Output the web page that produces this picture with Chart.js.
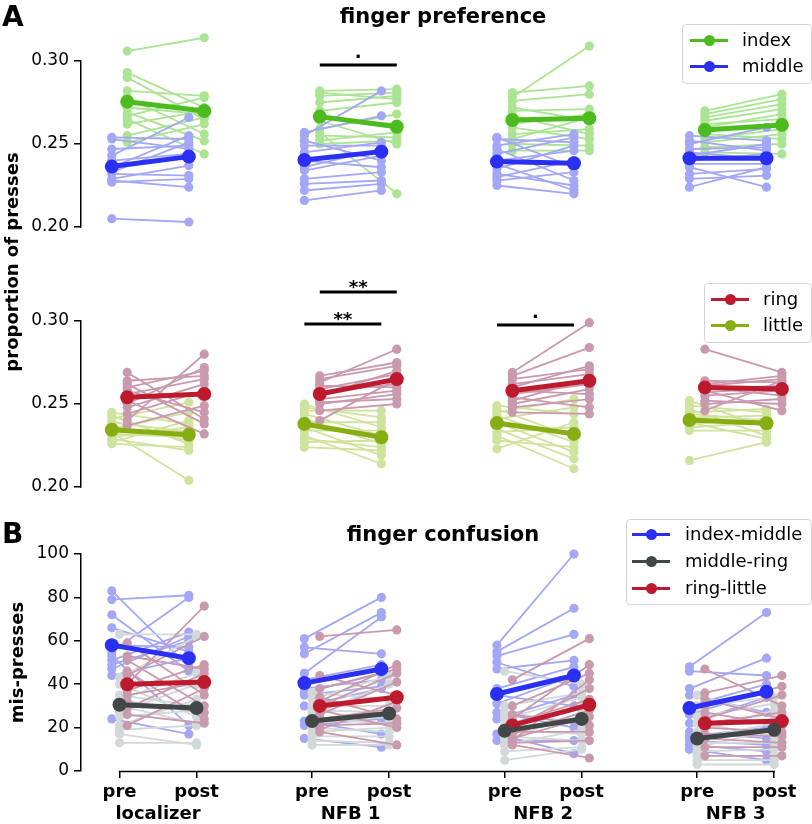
<!DOCTYPE html>
<html><head><meta charset="utf-8">
<script src="https://cdn.jsdelivr.net/npm/chart.js@4.4.1/dist/chart.umd.min.js"></script>
<style>
html,body{margin:0;padding:0;background:#fff;}
#wrap{position:relative;width:812px;height:824px;overflow:hidden;font-family:'DejaVu Sans',sans-serif;color:#000;background:#fff;}
canvas{position:absolute;left:0;}
.lbl{position:absolute;font-weight:bold;white-space:nowrap;line-height:1;}
.legend{position:absolute;border:1px solid #d4d4d4;border-radius:4px;background:rgba(255,255,255,0.85);box-sizing:border-box;z-index:5;}
.row{position:absolute;left:0;right:0;height:22px;}
.row .ln{position:absolute;height:3px;top:9.5px;width:38px;}
.row .dot{position:absolute;width:11px;height:11px;border-radius:50%;top:5.5px;}
.row .tx{position:absolute;font-size:18px;line-height:22px;white-space:nowrap;}
</style></head>
<body>
<div id="wrap">
  <canvas id="c1" width="812" height="262" style="top:0px"></canvas>
  <canvas id="c2" width="812" height="262" style="top:260px"></canvas>
  <canvas id="c3" width="812" height="314" style="top:510px"></canvas>
  <div class="lbl" style="left:2px;top:3px;font-size:28px;">A</div>
  <div class="lbl" style="left:2px;top:520px;font-size:28px;">B</div>
  <div class="lbl" style="left:12px;top:262px;font-size:18px;transform:translate(-50%,-50%) rotate(-90deg);">proportion of presses</div>
</div>
<script>
// ---------- DATA ----------
const sessions = ['localizer', 'NFB 1', 'NFB 2', 'NFB 3'];
const phases = ['pre', 'post'];
const yTicksPref = [0.20, 0.25, 0.30];
const yTickLabelsPref = ['0.20', '0.25', '0.30'];
const yTicksConf = [0, 20, 40, 60, 80, 100];
const yTickLabelsConf = ['0', '20', '40', '60', '80', '100'];

// finger preference (proportion of presses): per session, [pre, post] for each subject
const indexSubjects = [
  [[0.306,0.314],[0.293,0.272],[0.290,0.265],[0.282,0.279],[0.278,0.256],[0.272,0.268],[0.269,0.252],[0.267,0.278],[0.265,0.244],[0.262,0.270],[0.255,0.266],[0.251,0.262]],
  [[0.282,0.283],[0.281,0.277],[0.279,0.281],[0.275,0.279],[0.270,0.275],[0.266,0.262],[0.264,0.250],[0.259,0.268],[0.257,0.220],[0.255,0.254],[0.252,0.257],[0.250,0.252]],
  [[0.281,0.285],[0.278,0.309],[0.276,0.280],[0.272,0.264],[0.270,0.271],[0.267,0.256],[0.262,0.268],[0.260,0.253],[0.256,0.259],[0.253,0.266],[0.250,0.249],[0.246,0.246]],
  [[0.270,0.280],[0.268,0.277],[0.266,0.274],[0.264,0.271],[0.262,0.265],[0.260,0.268],[0.258,0.262],[0.256,0.253],[0.253,0.259],[0.251,0.256],[0.248,0.250],[0.245,0.244]]
];
const middleSubjects = [
  [[0.254,0.253],[0.253,0.247],[0.247,0.249],[0.243,0.266],[0.240,0.244],[0.236,0.255],[0.233,0.251],[0.232,0.231],[0.229,0.237],[0.228,0.224],[0.227,0.229],[0.205,0.203]],
  [[0.257,0.267],[0.255,0.282],[0.252,0.240],[0.249,0.249],[0.245,0.251],[0.240,0.236],[0.236,0.247],[0.234,0.243],[0.229,0.233],[0.226,0.228],[0.222,0.226],[0.216,0.222]],
  [[0.254,0.236],[0.253,0.251],[0.249,0.256],[0.247,0.228],[0.244,0.254],[0.240,0.246],[0.238,0.222],[0.235,0.249],[0.232,0.225],[0.230,0.240],[0.228,0.233],[0.225,0.220]],
  [[0.255,0.252],[0.252,0.246],[0.250,0.260],[0.247,0.248],[0.245,0.241],[0.243,0.250],[0.240,0.244],[0.238,0.238],[0.236,0.224],[0.232,0.235],[0.229,0.231],[0.224,0.236]]
];
const ringSubjects = [
  [[0.269,0.241],[0.264,0.267],[0.262,0.238],[0.260,0.270],[0.258,0.245],[0.256,0.265],[0.252,0.232],[0.250,0.272],[0.248,0.262],[0.244,0.258],[0.240,0.280],[0.237,0.249]],
  [[0.267,0.275],[0.265,0.273],[0.263,0.283],[0.261,0.260],[0.259,0.268],[0.257,0.262],[0.255,0.270],[0.253,0.258],[0.251,0.253],[0.250,0.256],[0.246,0.250],[0.240,0.265]],
  [[0.269,0.299],[0.267,0.284],[0.265,0.271],[0.262,0.268],[0.260,0.273],[0.258,0.256],[0.256,0.262],[0.254,0.248],[0.252,0.265],[0.250,0.259],[0.248,0.253],[0.245,0.244]],
  [[0.283,0.269],[0.264,0.263],[0.262,0.267],[0.261,0.265],[0.260,0.255],[0.259,0.261],[0.258,0.246],[0.257,0.260],[0.255,0.258],[0.252,0.250],[0.250,0.253],[0.246,0.264]]
];
const littleSubjects = [
  [[0.245,0.238],[0.243,0.226],[0.241,0.251],[0.239,0.233],[0.237,0.228],[0.235,0.245],[0.233,0.204],[0.232,0.230],[0.230,0.236],[0.229,0.222],[0.227,0.240],[0.226,0.224]],
  [[0.250,0.236],[0.248,0.242],[0.246,0.246],[0.244,0.231],[0.241,0.226],[0.239,0.239],[0.236,0.219],[0.234,0.234],[0.231,0.214],[0.229,0.224],[0.227,0.228],[0.224,0.222]],
  [[0.249,0.244],[0.247,0.230],[0.245,0.253],[0.243,0.227],[0.241,0.248],[0.239,0.221],[0.237,0.233],[0.235,0.217],[0.233,0.236],[0.231,0.211],[0.228,0.224],[0.223,0.239]],
  [[0.252,0.236],[0.249,0.245],[0.247,0.231],[0.245,0.247],[0.244,0.240],[0.242,0.243],[0.240,0.238],[0.239,0.229],[0.238,0.241],[0.236,0.239],[0.234,0.234],[0.216,0.227]]
];
const indexMean  = [[0.2755,0.2699],[0.2665,0.2604],[0.2645,0.2655],[0.2584,0.2615]];
const middleMean = [[0.2364,0.2424],[0.2404,0.2454],[0.2394,0.2384],[0.2414,0.2414]];
const ringMean   = [[0.2540,0.2560],[0.2560,0.2650],[0.2580,0.2640],[0.2600,0.2590]];
const littleMean = [[0.2345,0.2315],[0.2380,0.2300],[0.2385,0.2320],[0.2404,0.2384]];

// finger confusion (mis-presses)
const imSubjects = [
  [[83,48],[79,81],[72,46],[66,55],[58,57],[55,80],[53,21],[51,64],[49,60],[47,62],[44,52],[24,17]],
  [[61,80],[57,54],[54,73],[45,71],[42,49],[38,42],[36,45],[35,39],[30,38],[23,17],[21,24],[15,11]],
  [[58,100],[55,75],[53,63],[50,39],[47,51],[38,48],[35,30],[31,44],[27,20],[24,35],[17,8],[14,14]],
  [[48,73],[46,44],[38,52],[35,27],[30,40],[26,37],[22,34],[18,15],[16,20],[14,12],[12,9],[10,5]]
];
const mrSubjects = [
  [[63,63],[43,62],[40,25],[35,30],[33,45],[30,22],[27,40],[25,28],[21,33],[19,21],[17,12],[13,13]],
  [[36,33],[33,44],[30,30],[28,27],[26,40],[24,22],[22,25],[20,18],[18,20],[16,16],[14,13],[12,12]],
  [[46,40],[30,36],[27,22],[24,34],[21,30],[19,17],[17,25],[16,14],[14,27],[12,19],[9,11],[5,10]],
  [[35,25],[30,34],[25,31],[22,16],[18,28],[15,22],[13,13],[11,19],[9,10],[7,7],[5,5],[3,3]]
];
const rlSubjects = [
  [[59,35],[53,47],[51,30],[46,24],[44,62],[40,76],[37,49],[35,41],[32,27],[29,45],[26,22],[21,38]],
  [[62,65],[44,35],[38,47],[34,24],[32,49],[30,45],[28,20],[26,41],[24,29],[21,22],[19,32],[18,12]],
  [[42,61],[30,45],[26,21],[24,49],[22,33],[20,38],[18,18],[17,28],[15,25],[14,42],[13,14],[12,6]],
  [[47,30],[36,44],[33,24],[30,39],[27,21],[24,35],[22,27],[20,18],[17,16],[15,13],[11,11],[7,7]]
];
const imMean = [[58,52],[40.5,47],[35.5,44],[29,36.5]];
const mrMean = [[30.5,29],[23,26.5],[18.5,24],[15,19]];
const rlMean = [[40,41],[30,34],[21,30.5],[22,23]];

// significance annotations (data coordinates)
const sigPref = [{from: 2.6, to: 3.6, y: 0.2976, text: '.'}];
const sigRingLittle = [
  {from: 2.6, to: 3.6, y: 0.3175, text: '**'},
  {from: 2.4, to: 3.4, y: 0.2982, text: '**'},
  {from: 4.9, to: 5.9, y: 0.2976, text: '.'}
];

// ---------- LAYOUT / STYLE ----------
const phaseX = [0, 1, 2.5, 3.5, 5, 6, 7.5, 8.5];
const sessionX = [0.5, 3, 5.5, 8];
const X_MIN = -0.5, X_MAX = 8.9;
// preference panels: chart area 31..245 px; 0.30 -> 61 px, 0.20 -> 227 px
const PREF_MIN = 0.20 - 18 / 1660, PREF_MAX = 0.30 + 30 / 1660;
const FONT = "'DejaVu Sans', sans-serif";
Chart.defaults.font.family = FONT;
Chart.defaults.color = '#000';

const C = {
  index:  {main: '#4cbb1e', light: '#abe492'},
  middle: {main: '#2a30f2', light: '#a3a7f6'},
  ring:   {main: '#be1a2e', light: '#c99aae'},
  little: {main: '#86ad12', light: '#cfe39d'},
  mr:     {main: '#414747', light: '#d3d8d8'}
};

function subjectDatasets(subjects, off, color, label, order) {
  const out = [];
  for (let s = 0; s < subjects[0].length; s++) {
    const data = [];
    subjects.forEach((sess, k) => {
      data.push({x: phaseX[2*k] + off, y: sess[s][0]});
      data.push({x: phaseX[2*k+1] + off, y: sess[s][1]});
      data.push({x: phaseX[2*k+1] + off, y: null});
    });
    out.push({label: label + ' s' + (s+1), data, showLine: true, spanGaps: false,
      borderColor: color, backgroundColor: color, borderWidth: 1.8,
      pointRadius: 4.6, pointBorderWidth: 0, pointHoverRadius: 4.6,
      clip: false, order, xAxisID: 'x', yAxisID: 'y'});
  }
  return out;
}
function meanDataset(mean, off, color, label, order) {
  const data = [];
  mean.forEach((m, k) => {
    data.push({x: phaseX[2*k] + off, y: m[0]});
    data.push({x: phaseX[2*k+1] + off, y: m[1]});
    data.push({x: phaseX[2*k+1] + off, y: null});
  });
  return {label, data, showLine: true, spanGaps: false, borderColor: color, backgroundColor: color,
    borderWidth: 5, pointRadius: 7, pointBorderWidth: 0, pointHoverRadius: 7, clip: false, order,
    xAxisID: 'x', yAxisID: 'y'};
}
function sigDatasets(items) {
  return items.map((it, i) => ({label: 'sig' + i, data: [{x: it.from, y: it.y}, {x: it.to, y: it.y}],
    showLine: true, borderColor: '#000', borderWidth: 3, pointRadius: 0, pointHoverRadius: 0,
    clip: false, order: 0, xAxisID: 'x', yAxisID: 'y'}));
}

const sigPlugin = {
  id: 'sigText',
  afterDatasetsDraw(chart, args, opts) {
    const items = (opts && opts.items) || [];
    const {ctx} = chart; const x = chart.scales.x, y = chart.scales.y;
    ctx.save();
    ctx.fillStyle = '#000';
    ctx.font = "bold 18px 'DejaVu Sans'";
    ctx.textAlign = 'center';
    ctx.textBaseline = 'alphabetic';
    items.forEach(it => {
      const px = x.getPixelForValue((it.from + it.to) / 2);
      const py = y.getPixelForValue(it.y);
      ctx.fillText(it.text, px, py + (it.text === '.' ? -7 : 1));
    });
    ctx.restore();
  }
};
// trimmed spines (seaborn-style despine with trim): from first to last tick
const spinePlugin = {
  id: 'spines',
  afterDraw(chart, args, opts) {
    if (!opts) return;
    const {ctx, chartArea} = chart;
    ctx.save();
    ctx.strokeStyle = '#000'; ctx.lineWidth = 1.5;
    if (opts.x) {
      const x = chart.scales.x;
      ctx.beginPath();
      ctx.moveTo(x.getPixelForValue(opts.x[0]) - 0.75, chartArea.bottom + 0.5);
      ctx.lineTo(x.getPixelForValue(opts.x[1]) + 0.75, chartArea.bottom + 0.5);
      ctx.stroke();
    }
    if (opts.y) {
      const y = chart.scales.y;
      ctx.beginPath();
      ctx.moveTo(chartArea.left - 0.25, y.getPixelForValue(opts.y[0]) + 0.75);
      ctx.lineTo(chartArea.left - 0.25, y.getPixelForValue(opts.y[1]) - 0.75);
      ctx.stroke();
    }
    ctx.restore();
  }
};

function yScale(min, max, ticks, labels, border) {
  return {
    type: 'linear', min, max,
    afterBuildTicks: s => { s.ticks = ticks.map(v => ({value: v})); },
    afterFit: s => { s.width = 81; },
    ticks: {autoSkip: false, callback: v => labels[ticks.indexOf(v)], font: {size: 17}, color: '#000', padding: 5},
    grid: {drawOnChartArea: false, drawTicks: true, tickLength: 7, color: '#000', lineWidth: 1.5},
    border: {display: border, color: '#000', width: 1.5}
  };
}
function baseOptions() {
  return {
    responsive: false, animation: false, devicePixelRatio: 1,
    events: [],
    plugins: {legend: {display: false}, tooltip: {enabled: false}},
  };
}

// Panel A (top): index & middle
const opt1 = baseOptions();
opt1.layout = {padding: {top: 0, bottom: 17, left: 0, right: 0}};
opt1.plugins.title = {display: true, text: 'finger preference', fullSize: false,
  font: {size: 21, weight: 'bold'}, color: '#000', padding: {top: 5.4, bottom: 0.4}};
opt1.plugins.sigText = {items: sigPref};
opt1.plugins.spines = {y: [yTicksPref[0], yTicksPref[yTicksPref.length - 1]]};
opt1.scales = {
  x: {type: 'linear', display: false, min: X_MIN, max: X_MAX},
  y: yScale(PREF_MIN, PREF_MAX, yTicksPref, yTickLabelsPref, false)
};
new Chart(document.getElementById('c1'), {
  type: 'scatter',
  data: {datasets: [
    ...sigDatasets(sigPref),
    meanDataset(middleMean, -0.1, C.middle.main, 'middle', 0),
    meanDataset(indexMean, 0.1, C.index.main, 'index', 0),
    ...subjectDatasets(middleSubjects, -0.1, C.middle.light, 'middle', 2),
    ...subjectDatasets(indexSubjects, 0.1, C.index.light, 'index', 3)
  ]},
  options: opt1, plugins: [sigPlugin, spinePlugin]
});

// Panel A (middle): ring & little
const opt2 = baseOptions();
opt2.layout = {padding: {top: 31, bottom: 17, left: 0, right: 0}};
opt2.plugins.sigText = {items: sigRingLittle};
opt2.plugins.spines = {y: [yTicksPref[0], yTicksPref[yTicksPref.length - 1]]};
opt2.scales = {
  x: {type: 'linear', display: false, min: X_MIN, max: X_MAX},
  y: yScale(PREF_MIN, PREF_MAX, yTicksPref, yTickLabelsPref, false)
};
new Chart(document.getElementById('c2'), {
  type: 'scatter',
  data: {datasets: [
    ...sigDatasets(sigRingLittle),
    meanDataset(ringMean, 0.1, C.ring.main, 'ring', 0),
    meanDataset(littleMean, -0.1, C.little.main, 'little', 0),
    ...subjectDatasets(ringSubjects, 0.1, C.ring.light, 'ring', 2),
    ...subjectDatasets(littleSubjects, -0.1, C.little.light, 'little', 3)
  ]},
  options: opt2, plugins: [sigPlugin, spinePlugin]
});

// Panel B: finger confusion
const opt3 = baseOptions();
opt3.layout = {padding: {top: 0, bottom: 0, left: 0, right: 0}};
opt3.plugins.title = {display: true, text: 'finger confusion', fullSize: false,
  font: {size: 21, weight: 'bold'}, color: '#000', padding: {top: 13.4, bottom: 5.4}};
opt3.plugins.spines = {x: [phaseX[0], phaseX[phaseX.length - 1]]};
const y3 = yScale(0, 100, yTicksConf, yTickLabelsConf, true);
y3.title = {display: true, text: 'mis-presses', font: {size: 18, weight: 'bold'}, color: '#000', padding: {top: 8, bottom: 0}};
opt3.scales = {
  x: {type: 'linear', position: 'bottom', weight: 0, min: X_MIN, max: X_MAX,
    afterBuildTicks: s => { s.ticks = phaseX.map(v => ({value: v})); },
    afterFit: s => { s.height = 30; },
    ticks: {autoSkip: false, maxRotation: 0, callback: (v, i) => phases[i % 2],
      font: {size: 18, weight: 'bold'}, color: '#000', padding: 4},
    grid: {drawOnChartArea: false, drawTicks: true, tickLength: 7, color: '#000', lineWidth: 1.5},
    border: {display: false}},
  x2: {type: 'linear', position: 'bottom', weight: 1, min: X_MIN, max: X_MAX,
    afterBuildTicks: s => { s.ticks = sessionX.map(v => ({value: v})); },
    afterFit: s => { s.height = 23; },
    ticks: {autoSkip: false, maxRotation: 0, callback: (v, i) => sessions[i],
      font: {size: 18, weight: 'bold'}, color: '#000', padding: 3},
    grid: {display: false, drawTicks: false}, border: {display: false}},
  y: y3
};
new Chart(document.getElementById('c3'), {
  type: 'scatter',
  data: {datasets: [
    meanDataset(mrMean, 0, C.mr.main, 'middle-ring', 0),
    meanDataset(rlMean, 0.1, C.ring.main, 'ring-little', 0),
    meanDataset(imMean, -0.1, C.middle.main, 'index-middle', 0),
    ...subjectDatasets(rlSubjects, 0.1, C.ring.light, 'ring-little', 2),
    ...subjectDatasets(mrSubjects, 0, C.mr.light, 'middle-ring', 3),
    ...subjectDatasets(imSubjects, -0.1, C.middle.light, 'index-middle', 4)
  ]},
  options: opt3, plugins: [spinePlugin]
});

// ---------- LEGENDS (HTML) ----------
function makeLegend(box, rows, symLeft, textLeft, items) {
  const wrap = document.getElementById('wrap');
  const lg = document.createElement('div');
  lg.className = 'legend';
  Object.assign(lg.style, {left: box[0] + 'px', top: box[1] + 'px', width: box[2] + 'px', height: box[3] + 'px'});
  items.forEach((it, i) => {
    const r = document.createElement('div');
    r.className = 'row';
    r.style.top = (rows[i] - 11) + 'px';
    r.innerHTML = '<div class="ln" style="left:' + symLeft + 'px;background:' + it.color + '"></div>' +
      '<div class="dot" style="left:' + (symLeft + 13.5) + 'px;background:' + it.color + '"></div>' +
      '<div class="tx" style="left:' + textLeft + 'px"></div>';
    r.querySelector('.tx').textContent = it.label;
    lg.appendChild(r);
  });
  wrap.appendChild(lg);
}
makeLegend([682, 24, 130, 60], [15, 41], 7, 59,
  [{label: 'index', color: C.index.main}, {label: 'middle', color: C.middle.main}]);
makeLegend([704, 283, 108, 60], [15, 41], 6, 58,
  [{label: 'ring', color: C.ring.main}, {label: 'little', color: C.little.main}]);
makeLegend([626, 519, 186, 86], [14, 41, 68], 5, 58,
  [{label: 'index-middle', color: C.middle.main}, {label: 'middle-ring', color: C.mr.main}, {label: 'ring-little', color: C.ring.main}]);
</script>
</body></html>
